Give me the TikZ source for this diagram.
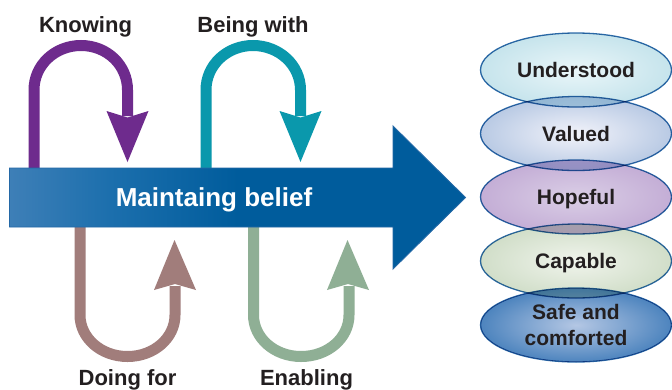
\documentclass[tikz,border=0pt]{standalone}
\usepackage{fontspec}
\setmainfont{Liberation Sans}
\usetikzlibrary{shapes.geometric}
\definecolor{knowc}{HTML}{6E2B8D}
\definecolor{beingc}{HTML}{0A98AC}
\definecolor{doingc}{HTML}{A17D7B}
\definecolor{enablec}{HTML}{8FAF95}
\definecolor{beltA}{HTML}{3E7FB7}
\definecolor{beltB}{HTML}{1C6FAD}
\definecolor{beltC}{HTML}{005C9C}
\definecolor{beltedge}{HTML}{2468A6}
\definecolor{elledge}{HTML}{2E6DAB}
\definecolor{txtc}{HTML}{231F20}
\definecolor{eAo}{HTML}{C6E4EC}\definecolor{eAi}{HTML}{EAF6F9}
\definecolor{eBo}{HTML}{B9CAE4}\definecolor{eBi}{HTML}{F2F3FA}
\definecolor{eCo}{HTML}{C4AED6}\definecolor{eCi}{HTML}{DACEE6}
\definecolor{eDo}{HTML}{D1DEC9}\definecolor{eDi}{HTML}{F0F4EC}
\definecolor{eEo}{HTML}{4D84BE}\definecolor{eEi}{HTML}{B4C7E4}
\pgfdeclarehorizontalshading{beltshade}{100bp}{color(0bp)=(beltA); color(25bp)=(beltA); color(36bp)=(beltB); color(50bp)=(beltC); color(100bp)=(beltC)}
\tikzset{
  loopline/.style={line width=11pt, line cap=butt},
  looplabel/.style={font=\bfseries\fontsize{22}{26}\selectfont, text=txtc, anchor=base, inner sep=0pt},
  ellnode/.style={shape=ellipse, draw=elledge, line width=1.3pt, minimum width=191pt, minimum height=74pt, inner sep=0pt},
  elltext/.style={font=\bfseries\fontsize{21}{25}\selectfont, text=txtc, anchor=base, inner sep=0pt},
}
\begin{document}
\begin{tikzpicture}[x=1pt,y=-1pt]
\fill[white] (0,0) rectangle (672,389);
\useasboundingbox (0,0) rectangle (672,389);

% Knowing loop (above)
\coordinate (k1) at (34,168);
\coordinate (k2) at (127.5,116);
\draw[loopline, knowc] (k1) -- (34,90) .. controls (34,65) and (55,45.5) .. (81,45.5) .. controls (107,45.5) and (127.5,65) .. (127.5,90) -- (k2);
\fill[knowc] (106.5,111) -- (127.5,117.5) -- (148.5,111) -- (127.5,162) -- cycle;

% Being with loop (above)
\coordinate (b1) at (206,168);
\coordinate (b2) at (300.5,116);
\draw[loopline, beingc] (b1) -- (206,90) .. controls (206,65) and (227,45.5) .. (253,45.5) .. controls (279,45.5) and (300.5,65) .. (300.5,90) -- (b2);
\fill[beingc] (279.5,111) -- (300.5,117.5) -- (321.5,111) -- (300.5,162) -- cycle;

% Doing for loop (below)
\coordinate (d1) at (80,227);
\coordinate (d2) at (175,286);
\draw[loopline, doingc] (d1) -- (80,315) .. controls (80,338) and (101,356.5) .. (127.5,356.5) .. controls (154,356.5) and (175,338) .. (175,315) -- (d2);
\fill[doingc] (154,290) -- (175,284) -- (196,290) -- (174.5,240) -- cycle;

% Enabling loop (below)
\coordinate (n1) at (253.5,227);
\coordinate (n2) at (349,286);
\draw[loopline, enablec] (n1) -- (253.5,315) .. controls (253.5,338) and (274.5,356.5) .. (301,356.5) .. controls (328,356.5) and (349,338) .. (349,315) -- (n2);
\fill[enablec] (327,290) -- (348,284) -- (369,290) -- (347.5,240) -- cycle;

% Big arrow
\shade[shading=beltshade, draw=beltedge, line width=0.9pt] (9.5,168) -- (393,168) -- (393,126) -- (465.5,197.5) -- (393,269) -- (393,227) -- (9.5,227) -- cycle;
\node[font=\bfseries\fontsize{26}{30}\selectfont, text=white, anchor=base, inner sep=0pt] (mb) at (214,206) {Maintaing belief};

% Loop labels
\node[looplabel] (lk) at (85.5,32) {Knowing};
\node[looplabel] (lb) at (253,32) {Being with};
\node[looplabel] (ld) at (127.5,385.5) {Doing for};
\node[looplabel] (le) at (306.5,385.5) {Enabling};

% Ellipses
\begin{scope}[blend mode=multiply]
\node[ellnode, inner color=eAi, outer color=eAo] (e1) at (576,70) {};
\node[ellnode, inner color=eBi, outer color=eBo] (e2) at (576,133.5) {};
\node[ellnode, inner color=eCi, outer color=eCo] (e3) at (576,197) {};
\node[ellnode, inner color=eDi, outer color=eDo] (e4) at (576,261) {};
\node[ellnode, inner color=eEi, outer color=eEo] (e5) at (576,325) {};
\end{scope}
\node[elltext] (t1) at ([yshift=-7.5pt]e1.center) {Understood};
\node[elltext] (t2) at ([yshift=-7.5pt]e2.center) {Valued};
\node[elltext] (t3) at ([yshift=-7.5pt]e3.center) {Hopeful};
\node[elltext] (t4) at ([yshift=-7.5pt]e4.center) {Capable};
\node[elltext] (t5a) at (576,319) {Safe and};
\node[elltext] (t5b) at (576,345) {comforted};
\end{tikzpicture}
\end{document}
